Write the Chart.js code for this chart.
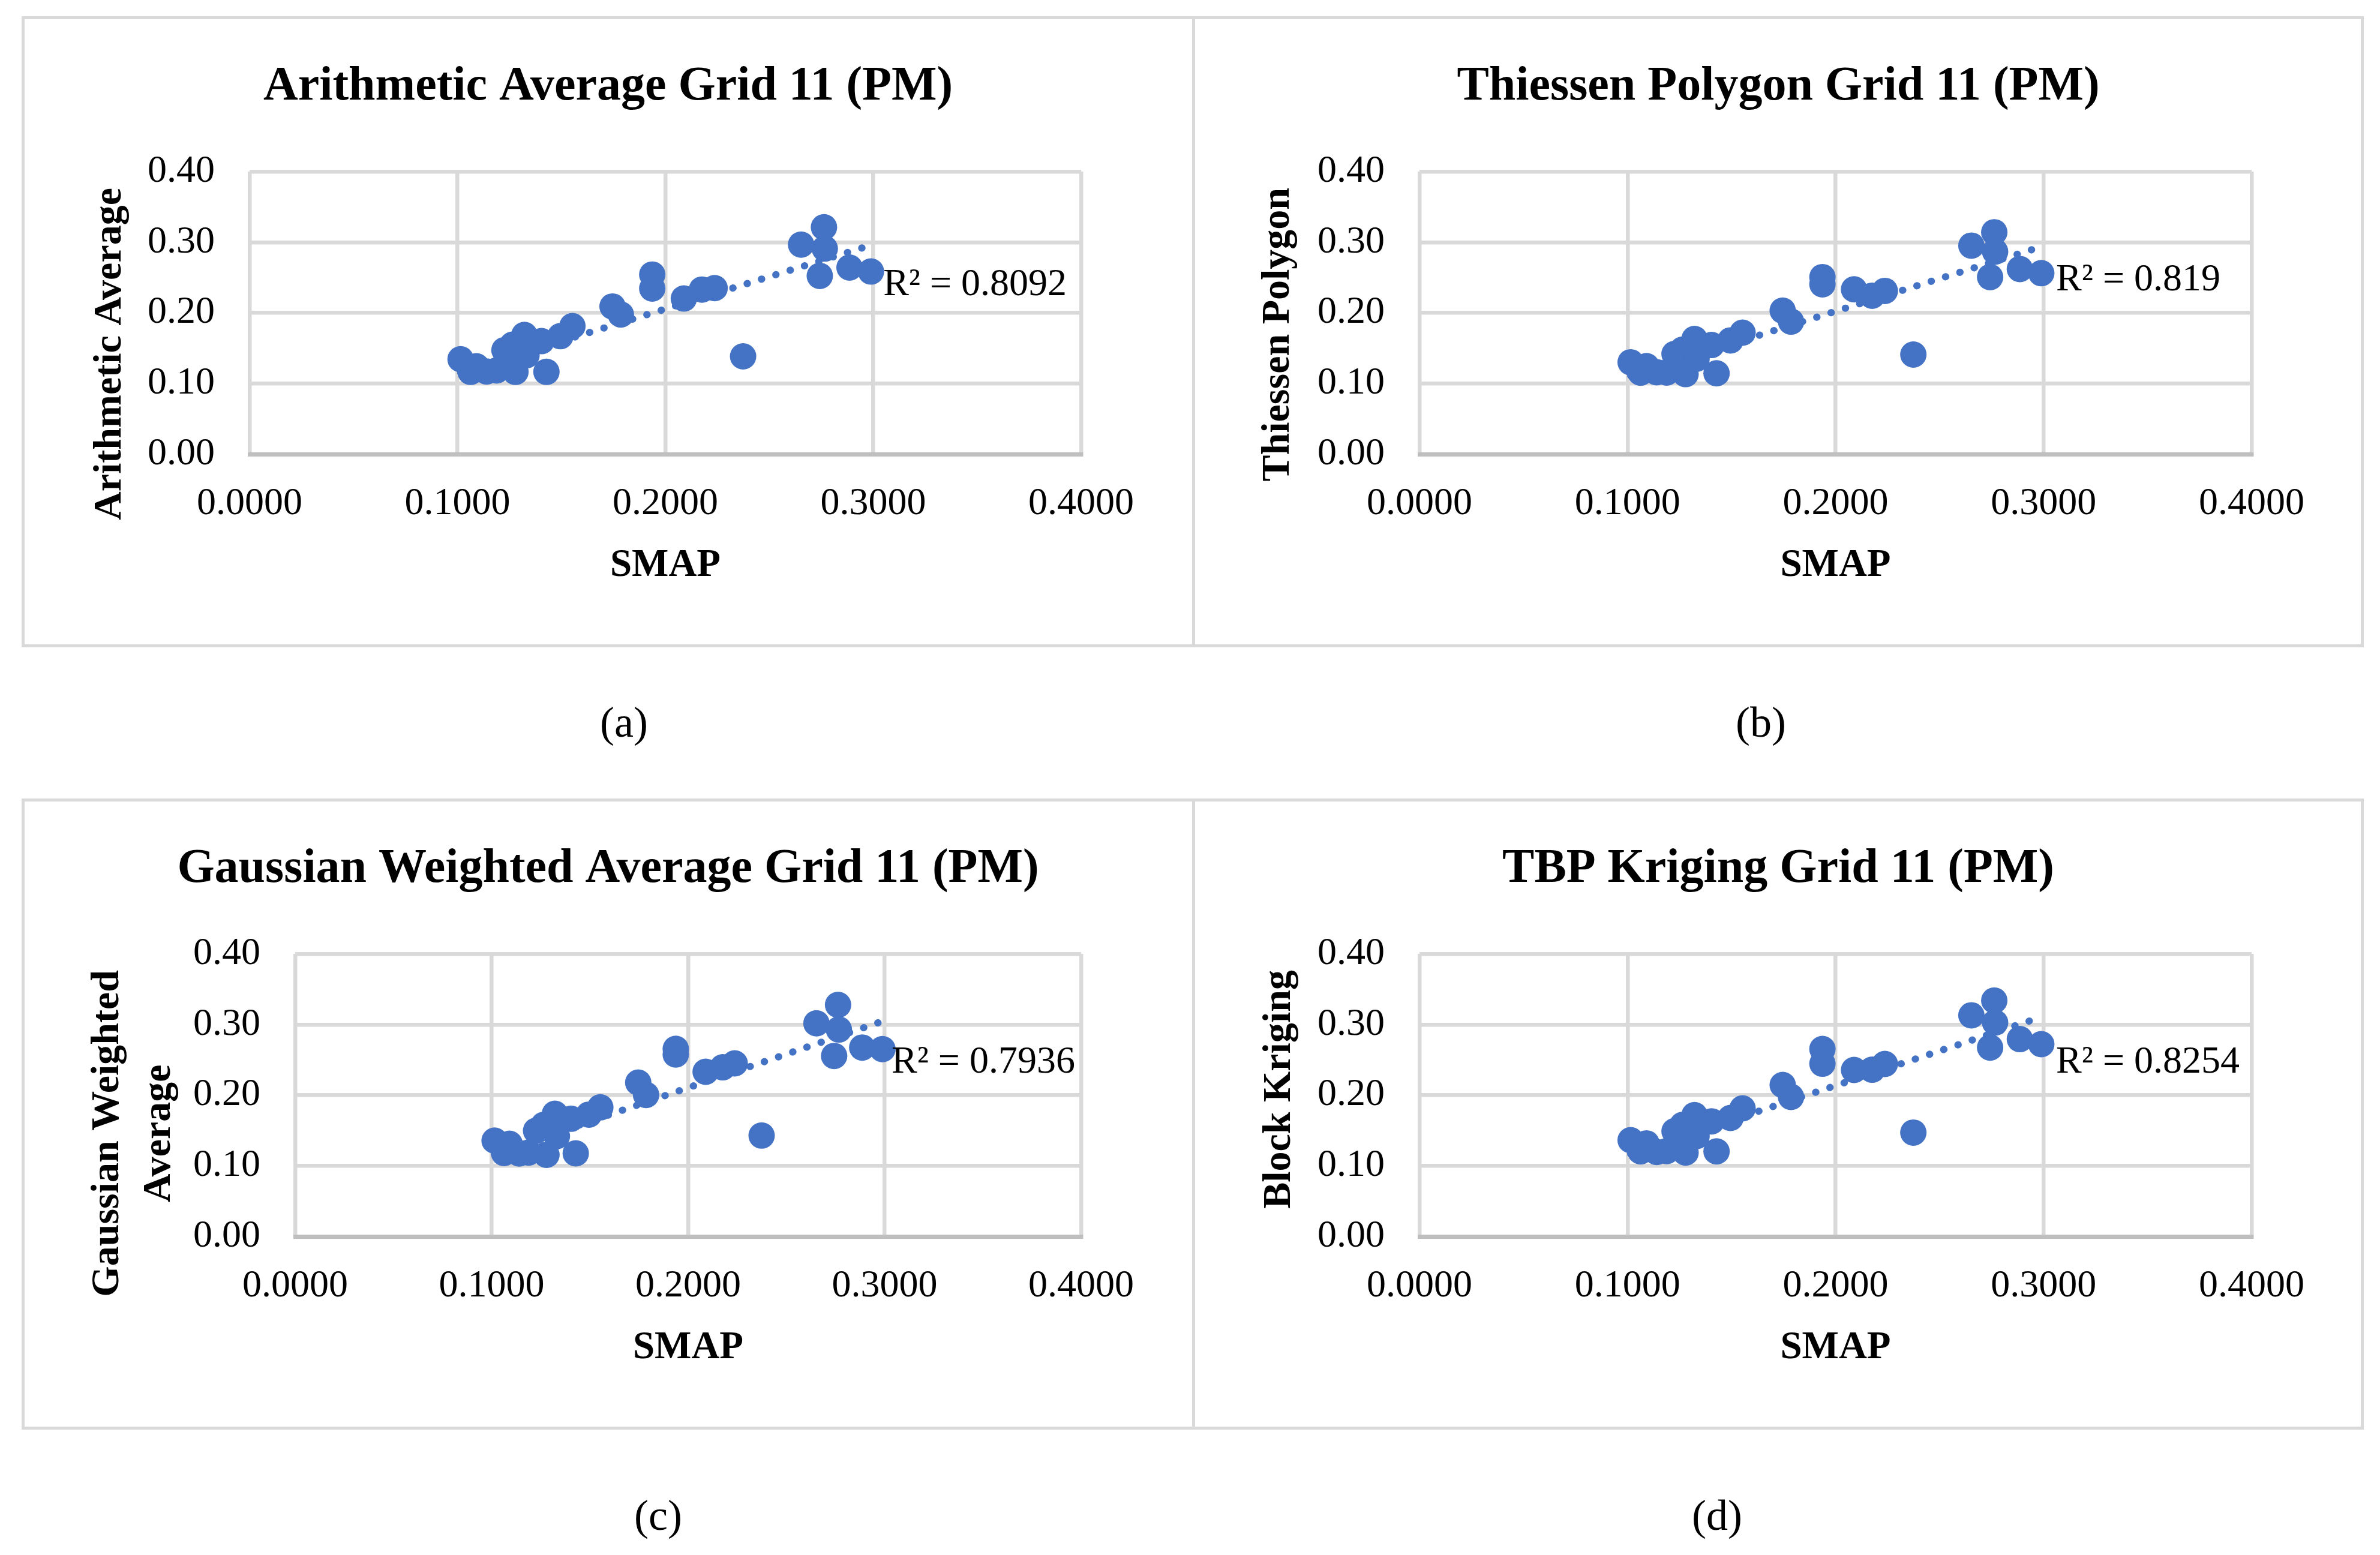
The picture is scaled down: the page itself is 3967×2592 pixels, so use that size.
<!DOCTYPE html>
<html>
<head>
<meta charset="utf-8">
<script src="https://cdn.jsdelivr.net/npm/chart.js@4.4.1/dist/chart.umd.min.js"></script>
<style>
  body { margin: 0; background: #fff; width: 3967px; height: 2592px; position: relative; overflow: hidden; }
  .box { position: absolute; border: 5px solid #d9d9d9; box-sizing: border-box; }
  canvas { position: absolute; }
  .caption { position: absolute; font-family: "Liberation Serif", serif; font-size: 72px; color: #000; transform: translate(-50%, -50%); }
</style>
</head>
<body>
<div class="box" style="left:36px;top:27px;width:1956px;height:1052px"></div>
<div class="box" style="left:1987px;top:27px;width:1953px;height:1052px"></div>
<div class="box" style="left:36px;top:1331px;width:1956px;height:1052px"></div>
<div class="box" style="left:1987px;top:1331px;width:1953px;height:1052px"></div>

<canvas id="chartA" width="1951" height="1048" style="left:38px;top:29px"></canvas>
<canvas id="chartB" width="1948" height="1048" style="left:1990px;top:29px"></canvas>
<canvas id="chartC" width="1951" height="1048" style="left:38px;top:1333px"></canvas>
<canvas id="chartD" width="1948" height="1048" style="left:1990px;top:1333px"></canvas>

<div class="caption" style="left:1040px;top:1204px">(a)</div>
<div class="caption" style="left:2935px;top:1204px">(b)</div>
<div class="caption" style="left:1097px;top:2526px">(c)</div>
<div class="caption" style="left:2862px;top:2526px">(d)</div>

<script>
// SMAP soil moisture (x), same for every panel
const smap = [0.1015, 0.1063, 0.1091, 0.1140, 0.1188, 0.1226, 0.1265, 0.1279, 0.1322, 0.1332,
              0.1404, 0.1428, 0.1495, 0.1553, 0.1746, 0.1786, 0.1937, 0.1937, 0.2089, 0.2176,
              0.2237, 0.2374, 0.2653, 0.2763, 0.2767, 0.2743, 0.2886, 0.2989];

// interpolated values per method (y)
const arithAvg = [0.1344, 0.1165, 0.1244, 0.1170, 0.1185, 0.1472, 0.1550, 0.1165, 0.1688, 0.1400,
                  0.1600, 0.1165, 0.1670, 0.1813, 0.2090, 0.1977, 0.2542, 0.2345, 0.2203, 0.2330,
                  0.2350, 0.1384, 0.2966, 0.3212, 0.2910, 0.2523, 0.2641, 0.2585];
const thiessen = [0.1300, 0.1153, 0.1246, 0.1160, 0.1155, 0.1418, 0.1480, 0.1133, 0.1630, 0.1350,
                  0.1545, 0.1144, 0.1610, 0.1720, 0.2031, 0.1876, 0.2506, 0.2404, 0.2333, 0.2243,
                  0.2311, 0.1410, 0.2952, 0.3141, 0.2867, 0.2506, 0.2621, 0.2562];
const gaussian = [0.1357, 0.1181, 0.1312, 0.1175, 0.1187, 0.1496, 0.1580, 0.1156, 0.1737, 0.1420,
                  0.1666, 0.1176, 0.1725, 0.1827, 0.2178, 0.2003, 0.2655, 0.2575, 0.2331, 0.2394,
                  0.2450, 0.1428, 0.3017, 0.3278, 0.2929, 0.2555, 0.2674, 0.2652];
const kriging = [0.1363, 0.1204, 0.1317, 0.1195, 0.1208, 0.1490, 0.1580, 0.1187, 0.1717, 0.1420,
                 0.1629, 0.1204, 0.1677, 0.1813, 0.2144, 0.1975, 0.2654, 0.2445, 0.2357, 0.2360,
                 0.2442, 0.1470, 0.3130, 0.3340, 0.3028, 0.2674, 0.2793, 0.2722];

// linear trendline ends
const trendX = [0.1015, 0.2989];
const trendArith = [0.1156, 0.2958];
const trendThiessen = [0.1112, 0.2936];
const trendGaussian = [0.1168, 0.3046];
const trendKriging = [0.1168, 0.3106];

const r2Labels = ['R\u00b2 = 0.8092', 'R\u00b2 = 0.819', 'R\u00b2 = 0.7936', 'R\u00b2 = 0.8254'];
const titles = ['Arithmetic Average Grid 11 (PM)', 'Thiessen Polygon Grid 11 (PM)',
                'Gaussian Weighted Average Grid 11 (PM)', 'TBP Kriging Grid 11 (PM)'];
const yTitles = [['Arithmetic Average'], ['Thiessen Polygon'], ['Gaussian Weighted', 'Average'], ['Block Kriging']];
const xTickLabels = ['0.0000', '0.1000', '0.2000', '0.3000', '0.4000'];
const yTickLabels = ['0.00', '0.10', '0.20', '0.30', '0.40'];

Chart.defaults.font.family = '"Liberation Serif", "Times New Roman", serif';
Chart.defaults.color = '#000';

const toPoints = (xs, ys) => xs.map((x, i) => ({ x: x, y: ys[i] }));

// rotated y-axis title, top-aligned a bit below the plot top
const yTitlePlugin = {
  id: 'yTitle',
  afterDraw(chart, args, opts) {
    const { ctx, chartArea } = chart;
    ctx.save();
    ctx.font = 'bold 66px "Liberation Serif"';
    ctx.fillStyle = '#000';
    ctx.textAlign = 'center';
    ctx.textBaseline = 'middle';
    const w0 = ctx.measureText(opts.lines[0]).width;
    const cy = chartArea.top + opts.gap + w0 / 2;
    opts.lines.forEach((t, i) => {
      ctx.save();
      ctx.translate(opts.xs[i], cy);
      ctx.rotate(-Math.PI / 2);
      ctx.fillText(t, 0, 0);
      ctx.restore();
    });
    ctx.restore();
  }
};

// R² label placed in data coordinates
const r2Plugin = {
  id: 'r2Label',
  afterDatasetsDraw(chart, args, opts) {
    const { ctx, scales } = chart;
    ctx.save();
    ctx.font = '64px "Liberation Serif"';
    ctx.fillStyle = '#000';
    ctx.textAlign = 'left';
    ctx.textBaseline = 'middle';
    ctx.fillText(opts.text, scales.x.getPixelForValue(opts.x), scales.y.getPixelForValue(opts.y));
    ctx.restore();
  }
};

function makeChart(id, idx, ys, trendY, side, yWidth, yTitleXs, r2Pos) {
  new Chart(document.getElementById(id), {
    type: 'scatter',
    data: {
      datasets: [
        {
          data: toPoints(trendX, trendY),
          showLine: true,
          pointRadius: 0,
          borderColor: '#4472c4',
          borderWidth: 12,
          borderDash: [0.5, 24.5],
          borderCapStyle: 'round',
          order: 0
        },
        {
          data: toPoints(smap, ys),
          pointRadius: 22,
          pointBackgroundColor: '#4472c4',
          pointBorderWidth: 0,
          order: 1
        }
      ]
    },
    options: {
      responsive: false,
      devicePixelRatio: 1,
      animation: false,
      events: [],
      layout: { padding: { left: side, right: side, top: 0, bottom: 0 } },
      plugins: {
        legend: { display: false },
        tooltip: { enabled: false },
        title: {
          display: true,
          text: titles[idx],
          font: { size: 80, weight: 'bold' },
          color: '#000',
          padding: { top: 68, bottom: 93 }
        },
        yTitle: { lines: yTitles[idx], xs: yTitleXs, gap: 27 },
        r2Label: { text: r2Labels[idx], x: r2Pos[0], y: r2Pos[1] }
      },
      scales: {
        x: {
          type: 'linear',
          min: 0, max: 0.4,
          afterFit(s) { s.height = 320; },
          ticks: {
            stepSize: 0.1,
            padding: 45,
            maxRotation: 0,
            autoSkip: false,
            font: { size: 64 },
            color: '#000',
            callback: (v, i) => xTickLabels[i]
          },
          grid: { color: '#d9d9d9', lineWidth: 6.5, drawTicks: false },
          border: { display: true, color: '#bfbfbf', width: 7 },
          title: {
            display: true,
            text: 'SMAP',
            font: { size: 65, weight: 'bold' },
            color: '#000',
            padding: { top: 0, bottom: 95 }
          }
        },
        y: {
          type: 'linear',
          min: 0, max: 0.4,
          afterFit(s) { s.width = yWidth; },
          ticks: {
            stepSize: 0.1,
            padding: 58,
            font: { size: 64 },
            color: '#000',
            callback: (v, i) => yTickLabels[i]
          },
          grid: { color: '#d9d9d9', lineWidth: 6.5, drawTicks: false },
          border: { display: false }
        }
      }
    },
    plugins: [yTitlePlugin, r2Plugin]
  });
}

makeChart('chartA', 0, arithAvg, trendArith, 187, 191, [146], [0.3048, 0.2390]);
makeChart('chartB', 1, thiessen, trendThiessen, 185, 191, [141], [0.306, 0.246]);
makeChart('chartC', 2, gaussian, trendGaussian, 187, 267, [142, 228], [0.3035, 0.246]);
makeChart('chartD', 3, kriging, trendKriging, 185, 191, [143], [0.306, 0.246]);
</script>
</body>
</html>
